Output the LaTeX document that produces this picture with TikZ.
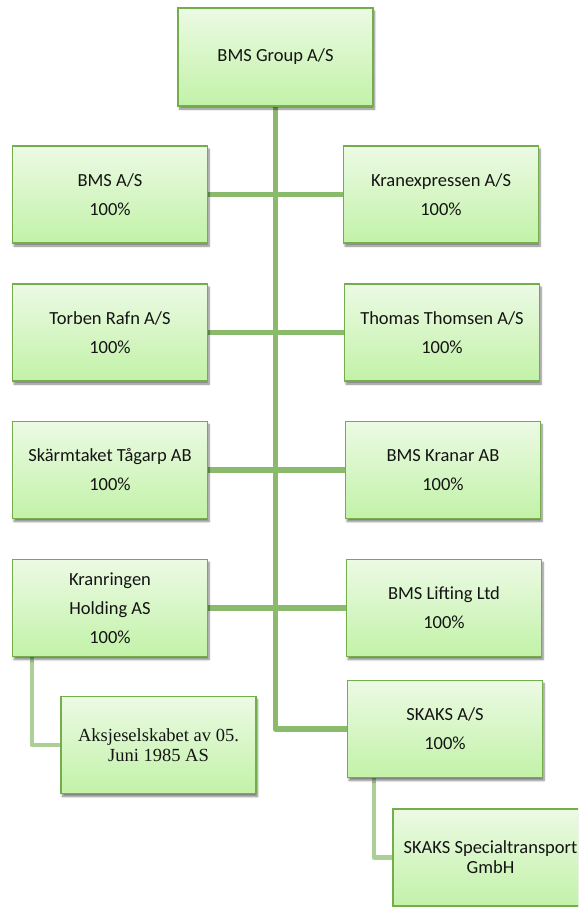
\documentclass[tikz,border=0pt]{standalone}
\usepackage{fontspec}
\setmainfont{Carlito}
\newfontfamily\timesf{Liberation Serif}
\usetikzlibrary{shadows.blur,backgrounds}
\definecolor{boxtop}{RGB}{236,250,228}
\definecolor{boxbot}{RGB}{194,242,168}
\definecolor{boxline}{RGB}{116,174,74}
\definecolor{trunkcol}{RGB}{138,186,108}
\definecolor{subcol}{RGB}{172,207,152}
\begin{document}
\begin{tikzpicture}[x=1pt,y=-1pt,
  orgbox/.style={draw=boxline, line width=1.5pt, top color=boxtop, bottom color=boxbot,
    minimum width=195pt, minimum height=97pt, inner sep=0pt, align=center,
    font=\fontsize{18.5}{29}\selectfont, text=black!92,
    blur shadow={shadow xshift=1.5pt, shadow yshift=-3pt, shadow blur steps=6, shadow opacity=50}},
  trunkline/.style={draw=trunkcol, line width=5.5pt, line join=round},
  sublink/.style={draw=subcol, line width=4.5pt, line join=round}]
\useasboundingbox (0,0) rectangle (578,907);
\clip (0,0) rectangle (578,907);
\node[orgbox, minimum height=98pt] (grp) at (275.5,57) {BMS Group A/S};
\node[orgbox] (bmsas) at (110,194.5) {BMS A/S\\100\%};
\node[orgbox] (kranexp) at (441,194.5) {Kranexpressen A/S\\100\%};
\node[orgbox] (torben) at (110,332.5) {Torben Rafn A/S\\100\%};
\node[orgbox] (thomas) at (442,332.5) {Thomas Thomsen A/S\\100\%};
\node[orgbox] (skarm) at (110,470) {Skärmtaket Tågarp AB\\100\%};
\node[orgbox] (kranar) at (443,470) {BMS Kranar AB\\100\%};
\node[orgbox] (kranr) at (110,608) {Kranringen\\Holding AS\\100\%};
\node[orgbox] (lifting) at (444,608) {BMS Lifting Ltd\\100\%};
\node[orgbox] (skaks) at (445,729) {SKAKS A/S\\100\%};
\node[orgbox, font=\timesf\fontsize{18.5}{19.5}\selectfont] (aksje) at (158.5,745) {Aksjeselskabet av 05.\\Juni 1985 AS};
\node[orgbox, font=\fontsize{18.5}{20}\selectfont] (spec) at (490.5,857.5) {SKAKS Specialtransport\\GmbH};
\begin{scope}[on background layer]
\draw[trunkline] (grp.south) -- (grp.south |- skaks.west) -- (skaks.west);
\draw[trunkline] (bmsas.east) -- (kranexp.west);
\draw[trunkline] (torben.east) -- (thomas.west);
\draw[trunkline] (skarm.east) -- (kranar.west);
\draw[trunkline] (kranr.east) -- (lifting.west);
\draw[sublink] ([xshift=20pt]kranr.south west) |- (aksje.west);
\draw[sublink] ([xshift=27pt]skaks.south west) |- (spec.west);
\end{scope}
\end{tikzpicture}
\end{document}
